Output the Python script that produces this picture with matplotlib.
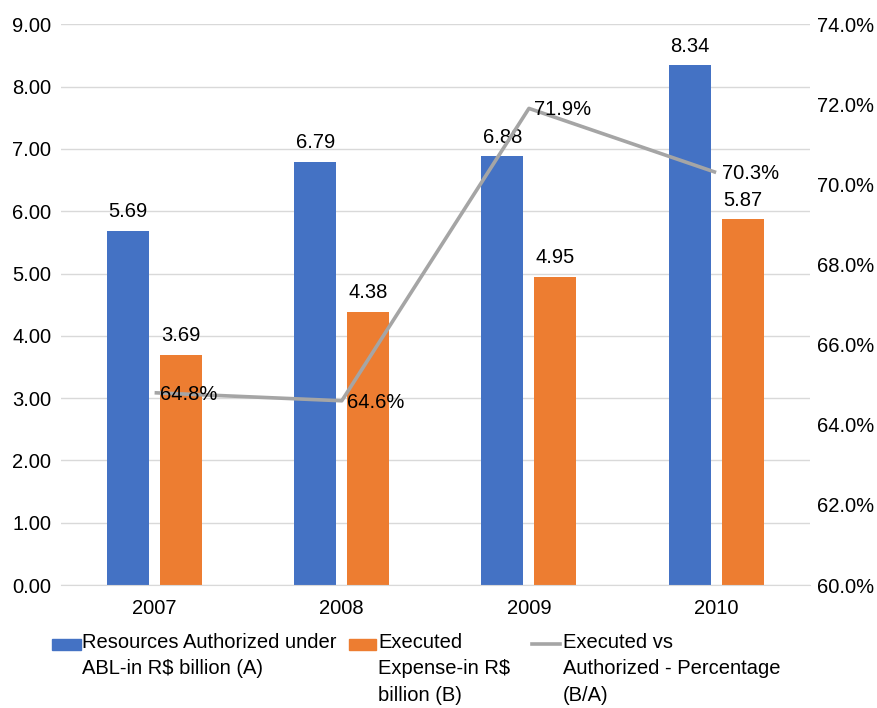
import numpy as np
import matplotlib.pyplot as plt
from matplotlib.patches import Rectangle
from matplotlib.lines import Line2D
from matplotlib.ticker import FuncFormatter

plt.rcParams['font.family'] = ['Liberation Sans', 'DejaVu Sans']

years = ['2007', '2008', '2009', '2010']
authorized = [5.69, 6.79, 6.88, 8.34]   # (A) R$ billion
executed = [3.69, 4.38, 4.95, 5.87]     # (B) R$ billion
pct_exec = [64.8, 64.6, 71.9, 70.3]     # B/A in %

blue = '#4472C4'
orange = '#ED7D31'
gray = '#A5A5A5'
grid_c = '#D9D9D9'
fs = 14.5

fig = plt.figure(figsize=(8.78, 7.08), dpi=100)
ax = fig.add_axes([0.0695, 0.1737, 0.8527, 0.792])
ax2 = ax.twinx()

x = np.arange(len(years))
w = 0.2245
off = 0.1416

b1 = ax.bar(x - off, authorized, w, color=blue, zorder=2)
b2 = ax.bar(x + off, executed, w, color=orange, zorder=2)

for bars, vals in ((b1, authorized), (b2, executed)):
    for r, v in zip(bars, vals):
        ax.annotate(f'{v:.2f}', (r.get_x() + r.get_width() / 2, v),
                    xytext=(0, 7), textcoords='offset points',
                    ha='center', va='bottom', fontsize=fs)

ax.set_xlim(-0.5, 3.5)
ax.set_ylim(0, 9)
ax.set_yticks(np.arange(0, 10, 1))
ax.yaxis.set_major_formatter(FuncFormatter(lambda v, p: f'{v:.2f}'))
ax.set_xticks(x)
ax.set_xticklabels(years)
ax.grid(axis='y', color=grid_c, linewidth=1, zorder=0)
ax.set_axisbelow(True)
for s in ax.spines.values():
    s.set_visible(False)
ax.spines['bottom'].set_visible(True)
ax.spines['bottom'].set_color(grid_c)
ax.tick_params(axis='y', length=0, labelsize=fs, pad=7)
ax.tick_params(axis='x', length=0, labelsize=fs, pad=10)

# percentage line on the secondary axis
ax2.plot(x, pct_exec, color=gray, linewidth=2.6, zorder=3, solid_capstyle='butt')
for xi, p in zip(x, pct_exec):
    ax2.annotate(f'{p:.1f}%', (xi, p), xytext=(4, -1), textcoords='offset points',
                 ha='left', va='center', fontsize=fs, zorder=4)
ax2.set_ylim(60, 74)
ax2.set_yticks(np.arange(60, 75, 2))
ax2.yaxis.set_major_formatter(FuncFormatter(lambda v, p: f'{v:.1f}%'))
for s in ax2.spines.values():
    s.set_visible(False)
ax2.tick_params(length=0, labelsize=fs, pad=5)

# legend below the plot
W, H = 878, 708
def fx(px):
    return px / W
def fy(py):
    return 1 - py / H

ls = 1.5
fig.add_artist(Rectangle((fx(52), fy(650)), fx(29), 11 / H, color=blue,
                         transform=fig.transFigure))
fig.text(fx(82), fy(633), 'Resources Authorized under\nABL-in R$ billion (A)',
         fontsize=fs, va='top', ha='left', linespacing=ls)
fig.add_artist(Rectangle((fx(349), fy(650)), fx(27), 11 / H, color=orange,
                         transform=fig.transFigure))
fig.text(fx(378), fy(633), 'Executed\nExpense-in R$\nbillion (B)',
         fontsize=fs, va='top', ha='left', linespacing=ls)
fig.add_artist(Line2D([fx(532), fx(560)], [fy(644), fy(644)], color=gray,
                      linewidth=2.6, transform=fig.transFigure))
fig.text(fx(563), fy(633), 'Executed vs\nAuthorized - Percentage\n(B/A)',
         fontsize=fs, va='top', ha='left', linespacing=ls)

fig.savefig('out.png', dpi=100)
